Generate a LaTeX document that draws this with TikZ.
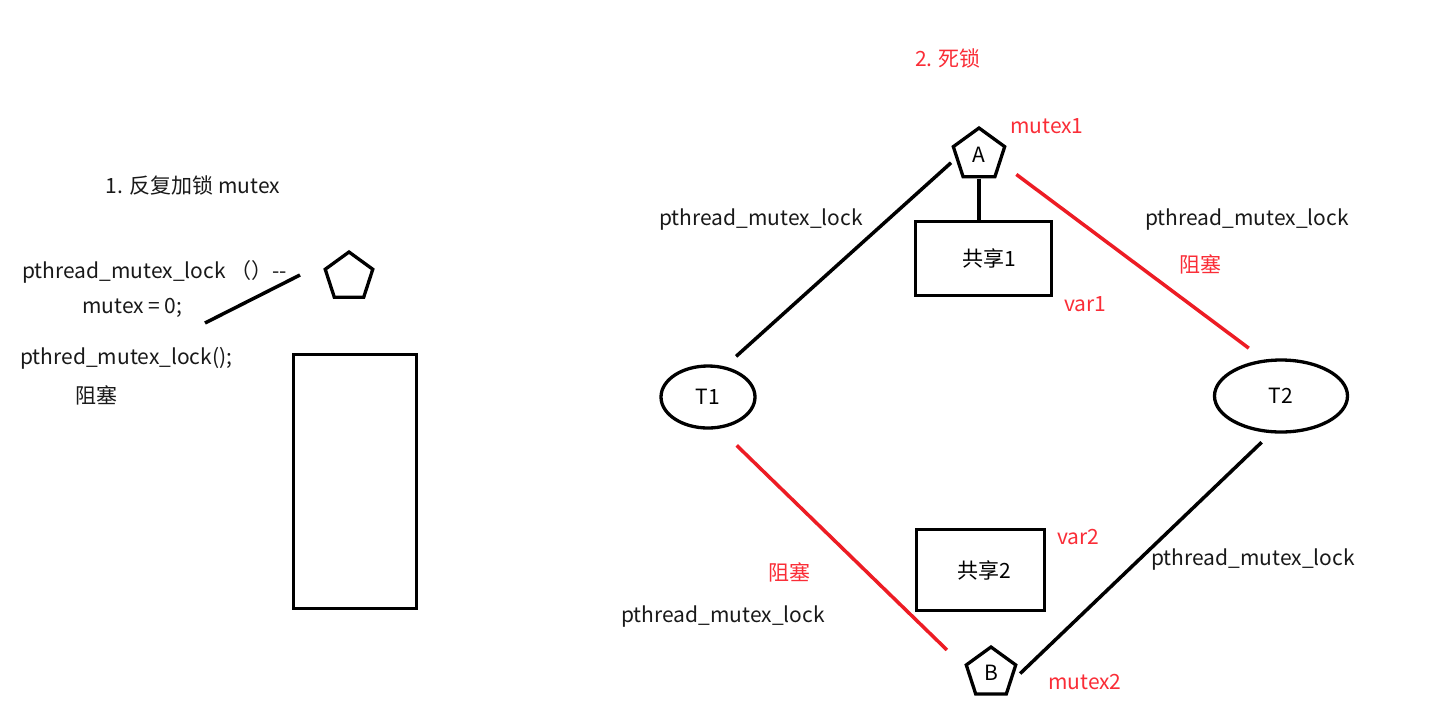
\documentclass[tikz,border=0pt]{standalone}
\usepackage{fontspec}
\setmainfont{Noto Sans CJK SC}
\usepackage{tikz}
\usetikzlibrary{shapes.geometric, calc}
\definecolor{lockred}{RGB}{237,28,36}
\definecolor{notered}{RGB}{250,45,55}
\definecolor{inkgray}{RGB}{25,25,25}

\tikzset{
  lock/.style={regular polygon, regular polygon sides=5, draw, line width=3.3pt, minimum size=54pt, inner sep=0pt},
  thread/.style={ellipse, draw, line width=3.3pt, inner sep=0pt},
  share/.style={rectangle, draw, line width=3.3pt, inner sep=0pt},
  wire/.style={line width=3.5pt},
  blocked/.style={wire, lockred},
  txt/.style={inner sep=0pt, text=inkgray},
  redtxt/.style={inner sep=0pt, text=notered},
}

\begin{document}
\begin{tikzpicture}[x=1pt, y=-1pt, font=\fontsize{21}{25}\selectfont]
  \useasboundingbox[fill=white] (0,0) rectangle (1432,721);
  % 1. repeated lock
  \node[txt] (title1) at (193,185) {1. 反复加锁 mutex};
  \node[txt, anchor=west] (call1) at (22,272) {pthread\_mutex\_lock （）-{}-};
  \node[txt, anchor=west] (zero) at (82,308) {mutex = 0;};
  \node[txt, anchor=west] (call2) at (20,358) {pthred\_mutex\_lock();};
  \node[txt, anchor=west] (wait1) at (75,395) {阻塞};
  \node[lock, minimum size=50pt] (mtx) at (349,277) {};
  \node[share, minimum width=123pt, minimum height=254pt] (res) at (355,481.5) {};
  \coordinate (hookA) at (205,323);
  \coordinate (hookB) at (300,275);
  \draw[wire] (hookA) -- (hookB);

  % 2. deadlock
  \node[redtxt] (title2) at (948,58) {2. 死锁};
  \node[lock] (A) at (979,155) {A};
  \node[lock, minimum size=52pt] (B) at (991,673) {B};
  \node[thread, minimum width=94pt, minimum height=62pt] (T1) at (708,397) {T1};
  \node[thread, minimum width=133pt, minimum height=72pt] (T2) at (1281,396) {\raisebox{-6pt}{T2}};
  \node[share, minimum width=136pt, minimum height=74pt] (share1) at (983.5,258.5) {\hspace{12pt}共享1};
  \node[share, minimum width=128pt, minimum height=81pt] (share2) at (980.5,570) {\hspace{8pt}共享2};

  \node[redtxt, anchor=west] (m1) at (1010,126) {mutex1};
  \node[redtxt, anchor=west] (m2) at (1048,682) {mutex2};
  \node[redtxt, anchor=west] (v1) at (1064,304) {var1};
  \node[redtxt, anchor=west] (v2) at (1057,537) {var2};

  \foreach \name/\x/\y in {lockTA/761/220, lockTB/1247/220, lockBA/723/617, lockBB/1253/560}
    \node[txt] (\name) at (\x,\y) {pthread\_mutex\_lock};
  \node[redtxt] (waitA) at (1200,264) {阻塞};
  \node[redtxt] (waitB) at (789,572) {阻塞};

  \draw[wire] (A.south) -- (A.south |- share1.north);
  \draw[wire, shorten <=15pt, shorten >=6pt] (T1.61) -- (A.189);
  \draw[blocked, shorten <=19pt, shorten >=19pt] (A.-20) -- (T2.115);
  \draw[blocked, shorten <=24pt, shorten >=26pt] (T1.-70) -- (B.169);
  \draw[wire, shorten <=11pt, shorten >=13pt] (B.-21) -- (T2.255);
\end{tikzpicture}
\end{document}
